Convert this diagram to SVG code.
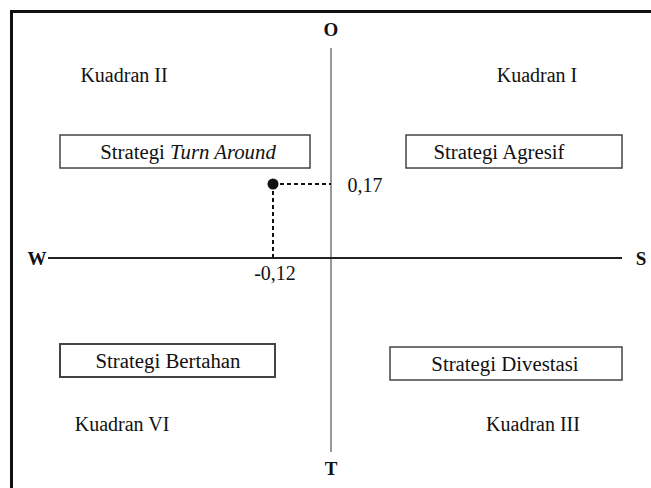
<svg xmlns="http://www.w3.org/2000/svg" width="651" height="488" viewBox="0 0 651 488">
<style>
text{font-family:"Liberation Serif","Times New Roman",serif;font-size:20px;fill:#111}
.bx{font-size:20.8px}
.b{font-weight:bold;font-size:19px}
.box{fill:#fff;stroke:#444;stroke-width:1.5}
.axis{stroke:#777;stroke-width:1.5}
.haxis{stroke:#222;stroke-width:2}
.dash{stroke:#111;stroke-width:2;stroke-dasharray:4 3;fill:none}
</style>
<rect x="0" y="0" width="651" height="488" fill="#fff"/>
<path d="M11.5 490 V11.5 H655" fill="none" stroke="#111" stroke-width="3"/>
<g id="connectors">
<line class="axis" x1="331" y1="48" x2="331" y2="452"/>
<line class="haxis" x1="48" y1="258" x2="622" y2="258"/>
<path class="dash" d="M273 184 H331"/>
<path class="dash" d="M273 184 V258"/>
<circle cx="273" cy="184" r="5.5" fill="#111"/>
</g>
<g id="labels">
<text class="b" x="331" y="36" text-anchor="middle">O</text>
<text class="b" x="331" y="475" text-anchor="middle">T</text>
<text class="b" x="37" y="265" text-anchor="middle">W</text>
<text class="b" x="641" y="265" text-anchor="middle">S</text>
<text x="365" y="192" text-anchor="middle">0,17</text>
<text x="275" y="280" text-anchor="middle">-0,12</text>
<text x="124" y="82" text-anchor="middle">Kuadran II</text>
<text x="537" y="82" text-anchor="middle">Kuadran I</text>
<text x="122" y="431" text-anchor="middle">Kuadran VI</text>
<text x="533" y="431" text-anchor="middle">Kuadran III</text>
</g>
<g id="turnaround">
<rect class="box" x="60" y="135" width="250" height="33"/>
<text class="bx" x="188" y="159" text-anchor="middle">Strategi <tspan font-style="italic">Turn Around</tspan></text>
</g>
<g id="agresif">
<rect class="box" x="406" y="135" width="216" height="33"/>
<text class="bx" x="499" y="159" text-anchor="middle">Strategi Agresif</text>
</g>
<g id="bertahan">
<rect class="box" x="60" y="344" width="215" height="33" style="stroke-width:2"/>
<text class="bx" x="168" y="368" text-anchor="middle">Strategi Bertahan</text>
</g>
<g id="divestasi">
<rect class="box" x="390" y="347" width="232" height="33"/>
<text class="bx" x="505" y="371" text-anchor="middle">Strategi Divestasi</text>
</g>
</svg>
